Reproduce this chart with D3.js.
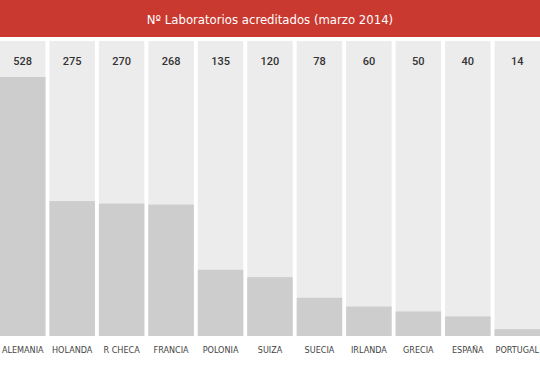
<!DOCTYPE html>
<html><head><meta charset="utf-8">
<script src="https://cdn.jsdelivr.net/npm/d3@7"></script>
<style>body{margin:0;background:#fff}svg{display:block}</style>
</head><body>
<script>
const categories = ["ALEMANIA","HOLANDA","R CHECA","FRANCIA","POLONIA","SUIZA","SUECIA","IRLANDA","GRECIA","ESPAÑA","PORTUGAL"];
const values = [528,275,270,268,135,120,78,60,50,40,14];
const title = "Nº Laboratorios acreditados (marzo 2014)";

const W = 540, H = 365;
const svg = d3.select("body").append("svg").attr("width", W).attr("height", H);
const condensed = "'DejaVu Sans Condensed', 'Liberation Sans Narrow', sans-serif";

svg.append("rect").attr("x",0).attr("y",0).attr("width",W).attr("height",37).attr("fill","#c9392f");
svg.append("text").attr("x",W/2).attr("y",24).attr("text-anchor","middle")
  .attr("fill","#fff").style("font-family",condensed).style("font-size","13px")
  .text(title);

const x = d3.scaleBand().domain(categories).range([0, 540]).paddingInner(0.08).paddingOuter(0);
const y = d3.scaleLinear().domain([0, 528]).range([336, 77]);
const colTop = 41;

const g = svg.append("g");
g.selectAll("rect.bg").data(categories).join("rect").attr("class","bg")
  .attr("x", d => x(d)).attr("y", colTop).attr("width", x.bandwidth()).attr("height", y(0) - colTop)
  .attr("fill", "#ececec");
g.selectAll("rect.bar").data(values).join("rect").attr("class","bar")
  .attr("x", (d,i) => x(categories[i])).attr("y", d => y(d)).attr("width", x.bandwidth()).attr("height", d => y(0) - y(d))
  .attr("fill", "#cdcdcd");
g.selectAll("text.val").data(values).join("text").attr("class","val")
  .attr("x", (d,i) => x(categories[i]) + x.bandwidth()/2).attr("y", 65).attr("text-anchor","middle")
  .attr("fill","#333").style("font-family","Roboto, sans-serif").style("font-size","11px").style("font-weight","500")
  .text(d => d);

const xAxis = d3.axisBottom(x).tickSize(0).tickPadding(0);
const ax = svg.append("g").attr("transform","translate(0,347)").call(xAxis);
ax.select(".domain").remove();
ax.selectAll("text").attr("fill","#444").style("font-family",condensed).style("font-size","9px").attr("dy","0.71em");
</script>
</body></html>
